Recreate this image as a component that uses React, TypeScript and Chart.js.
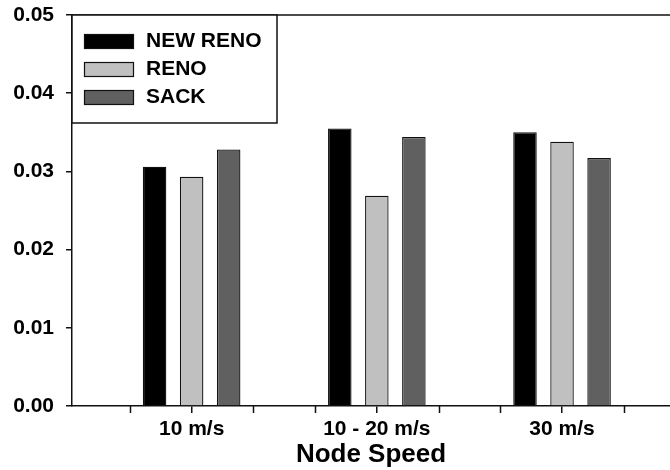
import React, { useEffect, useRef } from "react";
import { Chart, registerables } from "chart.js";

Chart.register(...registerables);

const categories = ["10 m/s", "10 - 20 m/s", "30 m/s"];
const seriesNames = ["NEW RENO", "RENO", "SACK"];
const newRenoValues = [0.0306, 0.0355, 0.035];
const renoValues = [0.0293, 0.0269, 0.0338];
const sackValues = [0.0328, 0.0344, 0.0317];
const yTickValues = [0, 0.01, 0.02, 0.03, 0.04, 0.05];
const xAxisTitle = "Node Speed";

const FONT = "'Liberation Sans', Arial, Helvetica, sans-serif";
const INK = "#111111";
const fills = ["#000000", "#c0c0c0", "#606060"];

// x range in category units: categories sit at 1, 2, 3
const X_MIN = 0.354;
const X_MAX = 3.583;

// minor tick marks every third of a category step
const minorTicks: number[] = [];
for (let k = 2; k <= 10; k++) {
  if (k % 3 !== 0) minorTicks.push(k / 3);
}

const frameAndLegend = {
  id: "frameAndLegend",
  afterDraw(chart: any) {
    const { ctx, chartArea } = chart;
    const xs = chart.scales.x;
    ctx.save();

    // top frame line
    ctx.strokeStyle = INK;
    ctx.lineWidth = 1.5;
    ctx.beginPath();
    ctx.moveTo(chartArea.left, chartArea.top);
    ctx.lineTo(chartArea.right, chartArea.top);
    ctx.stroke();

    // minor x tick marks
    ctx.lineWidth = 1.5;
    for (const v of minorTicks) {
      const px = Math.round(xs.getPixelForValue(v)) + 0.5;
      ctx.beginPath();
      ctx.moveTo(px, chartArea.bottom);
      ctx.lineTo(px, chartArea.bottom + 7);
      ctx.stroke();
    }

    // legend box
    const bx = chartArea.left;
    const by = chartArea.top;
    const bw = 205;
    const bh = 108;
    ctx.fillStyle = "#ffffff";
    ctx.fillRect(bx, by, bw, bh);
    ctx.strokeStyle = INK;
    ctx.lineWidth = 1.5;
    ctx.strokeRect(bx, by, bw, bh);

    chart.data.datasets.forEach((ds: any, i: number) => {
      const cy = by + 26.5 + i * 28;
      ctx.fillStyle = ds.backgroundColor;
      ctx.fillRect(bx + 12.5, cy - 7, 49, 14);
      ctx.strokeStyle = INK;
      ctx.lineWidth = 1.2;
      ctx.strokeRect(bx + 12.5, cy - 7, 49, 14);
      ctx.fillStyle = "#000000";
      ctx.font = `bold 21px ${FONT}`;
      ctx.textAlign = "left";
      ctx.textBaseline = "middle";
      ctx.fillText(ds.label, bx + 74, cy);
    });

    ctx.restore();
  },
};

export default function App() {
  const canvasRef = useRef<HTMLCanvasElement | null>(null);

  useEffect(() => {
    if (!canvasRef.current) return;
    const seriesValues = [newRenoValues, renoValues, sackValues];
    const chart = new Chart(canvasRef.current, {
      type: "bar",
      data: {
        datasets: seriesNames.map((name, i) => ({
          label: name,
          data: seriesValues[i].map((v, j) => ({ x: j + 1, y: v })),
          backgroundColor: fills[i],
          borderColor: INK,
          borderWidth: 1.3,
          categoryPercentage: 0.6,
          barPercentage: 0.635,
        })),
      },
      options: {
        animation: false,
        responsive: false,
        maintainAspectRatio: false,
        layout: { padding: { top: 15, right: 0, bottom: 0, left: 0 } },
        plugins: {
          legend: { display: false },
          tooltip: { enabled: false },
        },
        scales: {
          x: {
            type: "linear",
            min: X_MIN,
            max: X_MAX,
            offset: false,
            afterBuildTicks: (scale: any) => {
              scale.ticks = categories.map((_, i) => ({ value: i + 1 }));
            },
            afterFit: (scale: any) => {
              scale.height = 64;
              scale.paddingLeft = 0;
              scale.paddingRight = 0;
            },
            ticks: {
              autoSkip: false,
              maxRotation: 0,
              padding: 4,
              color: "#000000",
              font: { family: FONT, size: 21, weight: "bold" },
              callback: (value: any) => categories[Math.round(Number(value)) - 1] ?? "",
            },
            grid: {
              display: true,
              offset: false,
              drawOnChartArea: false,
              drawTicks: true,
              tickLength: 7,
              color: INK,
              lineWidth: 1.5,
            },
            border: { display: true, color: INK, width: 1.5 },
            title: {
              display: true,
              text: xAxisTitle,
              color: "#000000",
              font: { family: FONT, size: 26, weight: "bold" },
              padding: { top: 0, bottom: 0 },
            },
          },
          y: {
            type: "linear",
            min: 0,
            max: 0.05,
            afterBuildTicks: (scale: any) => {
              scale.ticks = yTickValues.map((v) => ({ value: v }));
            },
            afterFit: (scale: any) => {
              scale.width = 72;
              scale.paddingTop = 0;
              scale.paddingBottom = 0;
            },
            ticks: {
              padding: 12,
              color: "#000000",
              font: { family: FONT, size: 21, weight: "bold" },
              callback: (value: any) => Number(value).toFixed(2),
            },
            grid: {
              display: true,
              drawOnChartArea: false,
              drawTicks: true,
              tickLength: 6,
              color: INK,
              lineWidth: 1.5,
            },
            border: { display: true, color: INK, width: 1.5 },
          },
        },
      },
      plugins: [frameAndLegend],
    });
    return () => chart.destroy();
  }, []);

  return (
    <div
      style={{
        position: "absolute",
        left: 0,
        top: 0,
        width: 670,
        height: 470,
        background: "#ffffff",
      }}
    >
      <canvas ref={canvasRef} width={670} height={470} style={{ display: "block" }} />
    </div>
  );
}
